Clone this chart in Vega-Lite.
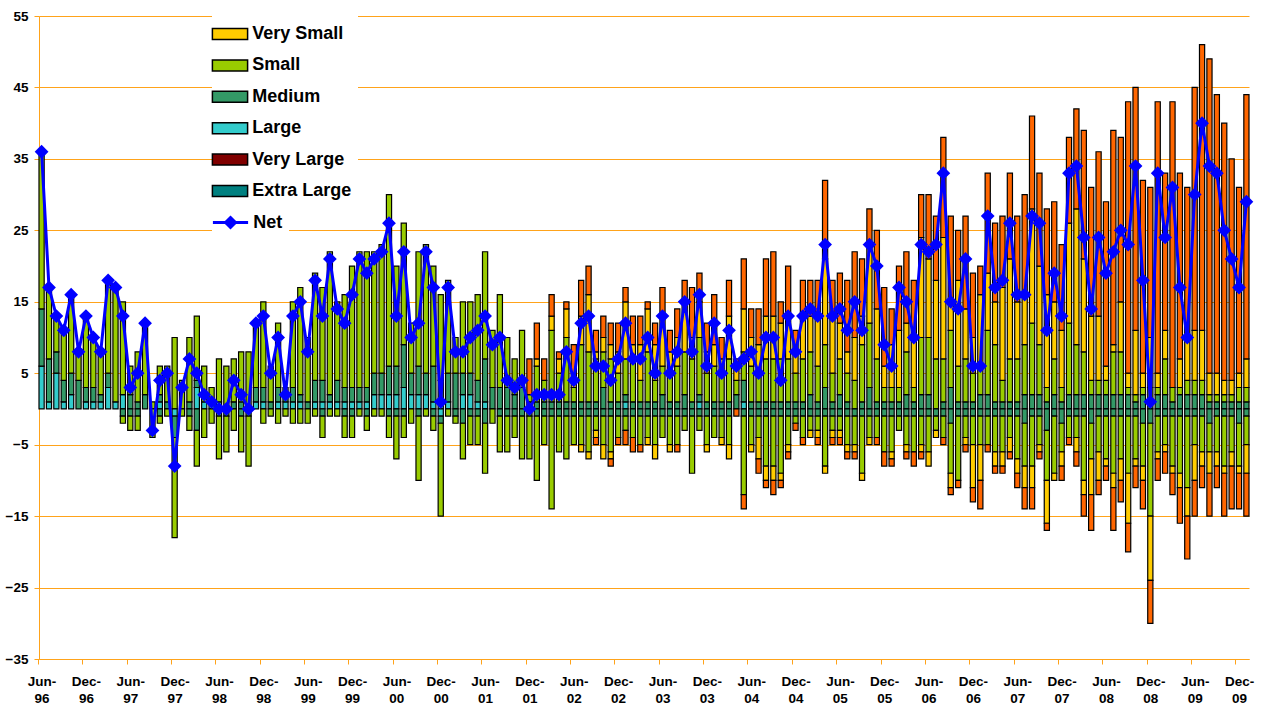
{
"$schema": "https://vega.github.io/schema/vega-lite/v6.json",
"width": 1210, "height": 643,
"autosize": {"type": "none"},
"padding": {"left": 39, "top": 16, "right": 14, "bottom": 46},
"background": "white",
"config": {"view": {"stroke": null}, "font": "Liberation Sans"},
"data": {"values": [
{"d":"1996-06","n":36,"L":6,"M":8,"S":22},
{"d":"1996-07","n":17,"L":1,"M":6,"S":10},
{"d":"1996-08","n":13,"L":5,"M":3,"S":5},
{"d":"1996-09","n":11,"L":1,"M":3,"S":7},
{"d":"1996-10","n":16,"L":2,"M":3,"S":11},
{"d":"1996-11","n":8,"M":4,"S":4},
{"d":"1996-12","n":13,"L":1,"M":2,"S":10},
{"d":"1997-01","n":10,"L":1,"M":2,"S":7},
{"d":"1997-02","n":8,"L":1,"M":1,"S":6},
{"d":"1997-03","n":18,"L":3,"M":2,"S":13},
{"d":"1997-04","n":17,"L":1,"S":16},
{"d":"1997-05","n":13,"L":2,"S":13,"m":-1,"s":-1},
{"d":"1997-06","n":3,"M":2,"S":4,"m":-1,"s":-2},
{"d":"1997-07","n":5,"M":1,"S":7,"m":-1,"s":-2},
{"d":"1997-08","n":12,"M":2,"S":10},
{"d":"1997-09","n":-3,"S":1,"s":-4},
{"d":"1997-10","n":4,"L":1,"M":1,"S":4,"m":-1,"s":-1},
{"d":"1997-11","n":5,"M":1,"S":5,"s":-1},
{"d":"1997-12","n":-8,"S":10,"l":-1,"m":-3,"s":-14},
{"d":"1998-01","n":3,"S":4,"s":-1},
{"d":"1998-02","n":7,"M":1,"S":9,"m":-1,"s":-2},
{"d":"1998-03","n":5,"L":3,"M":1,"S":9,"m":-3,"s":-5},
{"d":"1998-04","n":2,"L":1,"S":5,"s":-4},
{"d":"1998-05","n":1,"L":1,"S":2,"s":-2},
{"d":"1998-06","n":0,"L":1,"S":6,"m":-1,"s":-6},
{"d":"1998-07","n":0,"S":6,"m":-1,"s":-5},
{"d":"1998-08","n":4,"M":1,"S":6,"s":-3},
{"d":"1998-09","n":2,"M":1,"S":7,"m":-1,"s":-5},
{"d":"1998-10","n":0,"S":8,"m":-1,"s":-7},
{"d":"1998-11","n":12,"L":1,"M":2,"S":9},
{"d":"1998-12","n":13,"L":1,"M":2,"S":12,"s":-2},
{"d":"1999-01","n":5,"M":1,"S":5,"s":-1},
{"d":"1999-02","n":10,"L":1,"M":2,"S":9,"s":-2},
{"d":"1999-03","n":2,"L":1,"M":1,"S":1,"s":-1},
{"d":"1999-04","n":13,"L":1,"M":2,"S":12,"s":-2},
{"d":"1999-05","n":15,"L":1,"M":1,"S":15,"s":-2},
{"d":"1999-06","n":8,"M":1,"S":9,"s":-2},
{"d":"1999-07","n":18,"L":1,"M":3,"S":15,"s":-1},
{"d":"1999-08","n":13,"L":1,"M":3,"S":13,"m":-1,"s":-3},
{"d":"1999-09","n":21,"L":1,"M":1,"S":20,"s":-1},
{"d":"1999-10","n":14,"L":1,"M":3,"S":11,"s":-1},
{"d":"1999-11","n":12,"L":1,"M":2,"S":13,"m":-1,"s":-3},
{"d":"1999-12","n":16,"L":1,"M":2,"S":17,"m":-1,"s":-3},
{"d":"2000-01","n":21,"L":1,"M":2,"S":19,"s":-1},
{"d":"2000-02","n":19,"L":1,"M":2,"S":19,"m":-1,"s":-2},
{"d":"2000-03","n":21,"L":2,"M":3,"S":17,"s":-1},
{"d":"2000-04","n":22,"L":2,"M":3,"S":18,"s":-1},
{"d":"2000-05","n":26,"L":2,"M":4,"S":24,"m":-1,"s":-3},
{"d":"2000-06","n":13,"L":2,"M":4,"S":14,"m":-1,"s":-6},
{"d":"2000-07","n":22,"L":3,"M":6,"S":17,"m":-1,"s":-3},
{"d":"2000-08","n":10,"L":2,"M":3,"S":7,"s":-2},
{"d":"2000-09","n":12,"L":2,"M":4,"S":16,"m":-1,"s":-9},
{"d":"2000-10","n":22,"L":2,"M":3,"S":18,"s":-1},
{"d":"2000-11","n":17,"L":1,"M":5,"S":14,"m":-1,"s":-2},
{"d":"2000-12","n":1,"L":1,"M":3,"S":12,"l":-1,"m":-1,"s":-13},
{"d":"2001-01","n":17,"L":1,"M":4,"S":13,"s":-1},
{"d":"2001-02","n":8,"M":5,"S":5,"m":-1,"s":-1},
{"d":"2001-03","n":8,"L":2,"M":3,"S":10,"m":-2,"s":-5},
{"d":"2001-04","n":10,"L":2,"M":3,"S":10,"m":-1,"s":-4},
{"d":"2001-05","n":11,"L":1,"M":3,"S":12,"m":-1,"s":-4},
{"d":"2001-06","n":13,"L":1,"M":6,"S":15,"m":-2,"s":-7},
{"d":"2001-07","n":9,"M":3,"S":8,"s":-2},
{"d":"2001-08","n":10,"M":3,"S":13,"m":-1,"s":-5},
{"d":"2001-09","n":4,"M":3,"S":7,"m":-1,"s":-5},
{"d":"2001-10","n":3,"M":2,"S":5,"m":-1,"s":-3},
{"d":"2001-11","n":4,"M":3,"S":8,"m":-1,"s":-6},
{"d":"2001-12","n":0,"M":1,"S":1,"X":5,"m":-1,"s":-6},
{"d":"2002-01","n":2,"M":1,"S":5,"V":1,"X":5,"m":-1,"s":-9},
{"d":"2002-02","n":2,"M":1,"S":3,"X":3,"m":-1,"s":-4},
{"d":"2002-03","n":2,"M":1,"S":10,"V":2,"X":3,"m":-1,"s":-13},
{"d":"2002-04","n":2,"M":1,"S":4,"V":2,"X":1,"m":-1,"s":-5},
{"d":"2002-05","n":8,"M":1,"S":9,"V":4,"X":1,"m":-1,"s":-6},
{"d":"2002-06","n":4,"M":1,"S":2,"V":1,"X":5,"m":-1,"s":-4},
{"d":"2002-07","n":12,"M":1,"S":8,"V":4,"X":5,"m":-1,"s":-4,"v":-1},
{"d":"2002-08","n":13,"M":1,"S":7,"V":8,"X":4,"m":-1,"s":-5,"v":-1},
{"d":"2002-09","n":6,"M":1,"S":6,"V":1,"X":3,"m":-1,"s":-2,"v":-1,"x":-1},
{"d":"2002-10","n":6,"M":3,"S":5,"V":2,"X":3,"m":-1,"s":-4,"v":-2},
{"d":"2002-11","n":4,"M":1,"S":6,"V":2,"X":3,"m":-1,"s":-5,"v":-1,"x":-1},
{"d":"2002-12","n":7,"M":1,"S":4,"V":3,"X":4,"m":-1,"s":-3,"x":-1},
{"d":"2003-01","n":12,"L":1,"M":1,"S":5,"V":8,"X":2,"m":-1,"s":-2,"x":-2},
{"d":"2003-02","n":7,"M":1,"S":6,"V":2,"X":4,"m":-1,"s":-3,"x":-2},
{"d":"2003-03","n":7,"M":1,"S":3,"V":5,"X":4,"m":-1,"s":-4,"x":-1},
{"d":"2003-04","n":10,"M":1,"S":7,"V":6,"X":1,"m":-1,"s":-3,"v":-1},
{"d":"2003-05","n":5,"M":1,"S":3,"V":5,"X":3,"m":-1,"s":-4,"v":-2},
{"d":"2003-06","n":13,"M":2,"S":4,"V":7,"X":4,"m":-1,"s":-3},
{"d":"2003-07","n":5,"M":1,"S":4,"V":3,"X":3,"m":-1,"s":-4,"v":-1},
{"d":"2003-08","n":8,"M":1,"S":5,"V":4,"X":4,"m":-1,"s":-4,"x":-1},
{"d":"2003-09","n":15,"M":2,"S":6,"V":7,"X":3,"m":-1,"s":-2},
{"d":"2003-10","n":8,"M":1,"S":6,"V":3,"X":7,"m":-1,"s":-8},
{"d":"2003-11","n":16,"L":1,"M":1,"S":8,"V":5,"X":4,"m":-1,"s":-2},
{"d":"2003-12","n":6,"M":1,"S":4,"V":3,"X":4,"m":-1,"s":-4,"v":-1},
{"d":"2004-01","n":12,"M":1,"S":5,"V":3,"X":7,"m":-1,"s":-3},
{"d":"2004-02","n":5,"M":1,"S":4,"V":2,"X":3,"m":-1,"s":-3,"v":-1},
{"d":"2004-03","n":11,"M":1,"S":6,"V":6,"X":5,"m":-1,"s":-4,"v":-2},
{"d":"2004-04","n":6,"M":2,"S":2,"V":2,"X":1,"x":-1},
{"d":"2004-05","n":7,"L":1,"M":3,"S":4,"V":6,"X":7,"m":-1,"s":-11,"x":-2},
{"d":"2004-06","n":8,"M":1,"S":5,"V":4,"X":4,"m":-1,"s":-4,"v":-1},
{"d":"2004-07","n":5,"M":1,"S":4,"V":4,"X":5,"m":-1,"s":-3,"v":-3,"x":-2},
{"d":"2004-08","n":10,"M":1,"S":6,"V":6,"X":8,"m":-1,"s":-7,"v":-2,"x":-1},
{"d":"2004-09","n":10,"M":1,"S":6,"V":6,"X":9,"m":-1,"s":-7,"v":-2,"x":-2},
{"d":"2004-10","n":4,"M":1,"S":6,"V":5,"X":3,"m":-1,"s":-8,"v":-1,"x":-1},
{"d":"2004-11","n":13,"M":1,"S":6,"V":6,"X":7,"m":-1,"s":-4,"v":-1,"x":-1},
{"d":"2004-12","n":8,"M":1,"S":4,"V":3,"X":3,"m":-1,"s":-1,"x":-1},
{"d":"2005-01","n":13,"M":1,"S":6,"V":6,"X":5,"m":-1,"s":-3,"x":-1},
{"d":"2005-02","n":14,"M":2,"S":6,"V":5,"X":5,"m":-1,"s":-2,"v":-1},
{"d":"2005-03","n":13,"M":1,"S":5,"V":7,"X":5,"m":-1,"s":-2,"v":-1,"x":-1},
{"d":"2005-04","n":23,"M":3,"S":6,"V":12,"X":11,"m":-1,"s":-7,"v":-1},
{"d":"2005-05","n":13,"M":1,"S":4,"V":8,"X":5,"m":-1,"s":-2,"v":-1,"x":-1},
{"d":"2005-06","n":14,"M":2,"S":5,"V":5,"X":7,"m":-1,"s":-2,"v":-1,"x":-1},
{"d":"2005-07","n":11,"M":1,"S":4,"V":3,"X":10,"m":-1,"s":-4,"v":-1,"x":-1},
{"d":"2005-08","n":15,"S":4,"V":6,"X":12,"m":-1,"s":-4,"v":-1,"x":-1},
{"d":"2005-09","n":11,"M":1,"S":8,"V":4,"X":8,"m":-1,"s":-8,"v":-1},
{"d":"2005-10","n":23,"M":3,"S":9,"V":11,"X":5,"m":-1,"s":-3,"v":-1},
{"d":"2005-11","n":20,"M":1,"S":6,"V":7,"X":11,"m":-1,"s":-3,"x":-1},
{"d":"2005-12","n":9,"M":1,"S":2,"V":3,"X":11,"m":-1,"s":-5,"x":-2},
{"d":"2006-01","n":6,"M":1,"S":2,"V":6,"X":5,"m":-1,"s":-5,"v":-1,"x":-1},
{"d":"2006-02","n":17,"M":1,"S":2,"V":8,"X":9,"m":-1,"s":-2},
{"d":"2006-03","n":15,"M":2,"S":6,"V":4,"X":10,"m":-1,"s":-4,"v":-1,"x":-1},
{"d":"2006-04","n":10,"M":1,"S":2,"V":7,"X":8,"m":-1,"s":-5,"x":-2},
{"d":"2006-05","n":23,"M":2,"S":8,"V":14,"X":6,"m":-1,"s":-4,"v":-1,"x":-1},
{"d":"2006-06","n":22,"M":2,"S":8,"V":11,"X":9,"m":-1,"s":-5,"v":-2},
{"d":"2006-07","n":23,"S":7,"V":11,"X":9,"m":-1,"s":-2,"v":-1},
{"d":"2006-08","n":33,"M":1,"S":6,"V":17,"X":14,"m":-1,"s":-3,"x":-1},
{"d":"2006-09","n":15,"M":3,"S":8,"V":4,"X":12,"m":-2,"s":-7,"v":-2,"x":-1},
{"d":"2006-10","n":14,"M":1,"S":5,"V":12,"X":7,"m":-1,"s":-9,"x":-1},
{"d":"2006-11","n":21,"M":1,"S":6,"V":7,"X":13,"m":-1,"s":-3,"v":-1,"x":-1},
{"d":"2006-12","n":6,"M":1,"S":4,"V":5,"X":9,"m":-1,"s":-4,"v":-6,"x":-2},
{"d":"2007-01","n":6,"M":2,"S":4,"V":10,"X":4,"m":-1,"s":-4,"v":-5,"x":-4},
{"d":"2007-02","n":27,"M":2,"S":9,"V":8,"X":14,"m":-1,"s":-4,"x":-1},
{"d":"2007-03","n":17,"M":1,"S":8,"V":6,"X":11,"m":-1,"s":-5,"v":-2,"x":-1},
{"d":"2007-04","n":18,"M":1,"S":3,"V":13,"X":10,"m":-1,"s":-5,"v":-2,"x":-1},
{"d":"2007-05","n":26,"M":1,"S":6,"V":14,"X":12,"m":-1,"s":-3,"v":-2,"x":-1},
{"d":"2007-06","n":16,"M":1,"S":6,"V":8,"X":12,"m":-1,"s":-6,"v":-2,"x":-2},
{"d":"2007-07","n":16,"M":2,"S":7,"V":7,"X":14,"m":-2,"s":-6,"v":-3,"x":-3},
{"d":"2007-08","n":27,"M":2,"S":10,"V":16,"X":13,"m":-1,"s":-7,"v":-3,"x":-3},
{"d":"2007-09","n":26,"M":2,"S":7,"V":11,"X":13,"m":-1,"s":-4,"v":-1,"x":-1},
{"d":"2007-10","n":11,"M":1,"S":2,"V":13,"X":12,"m":-3,"s":-7,"v":-6,"x":-1},
{"d":"2007-11","n":19,"M":2,"S":5,"V":8,"X":14,"m":-1,"s":-8,"v":-1},
{"d":"2007-12","n":13,"M":1,"S":2,"V":8,"X":12,"m":-2,"s":-4,"v":-2,"x":-2},
{"d":"2008-01","n":33,"M":2,"S":10,"V":14,"X":12,"m":-1,"s":-3,"x":-1},
{"d":"2008-02","n":34,"M":2,"S":7,"V":19,"X":14,"m":-1,"s":-3,"v":-2,"x":-2},
{"d":"2008-03","n":24,"M":2,"S":6,"V":13,"X":18,"m":-1,"s":-9,"v":-2,"x":-3},
{"d":"2008-04","n":14,"M":2,"S":2,"V":9,"X":18,"m":-2,"s":-5,"v":-5,"x":-5},
{"d":"2008-05","n":24,"M":2,"S":2,"V":9,"X":23,"m":-1,"s":-5,"v":-4,"x":-2},
{"d":"2008-06","n":19,"M":2,"S":2,"V":2,"X":23,"m":-1,"s":-6,"v":-1,"x":-2},
{"d":"2008-07","n":22,"M":2,"S":6,"V":1,"X":30,"m":-1,"s":-8,"v":-2,"x":-6},
{"d":"2008-08","n":25,"M":2,"S":6,"V":7,"X":23,"m":-1,"s":-6,"v":-3,"x":-3},
{"d":"2008-09","n":23,"M":2,"S":1,"V":2,"X":38,"m":-1,"s":-8,"v":-7,"x":-4},
{"d":"2008-10","n":34,"M":1,"S":1,"V":9,"X":34,"m":-1,"s":-6,"v":-1,"x":-3},
{"d":"2008-11","n":18,"M":2,"S":1,"V":2,"X":27,"m":-2,"s":-6,"v":-2,"x":-4},
{"d":"2008-12","n":1,"M":1,"S":2,"V":7,"X":21,"m":-2,"s":-13,"v":-9,"x":-6},
{"d":"2009-01","n":33,"M":2,"S":1,"V":2,"X":38,"m":-1,"s":-5,"v":-1,"x":-3},
{"d":"2009-02","n":24,"M":2,"S":5,"V":4,"X":22,"m":-1,"s":-4,"v":-1,"x":-3},
{"d":"2009-03","n":31,"M":1,"S":2,"X":40,"m":-1,"s":-7,"v":-1,"x":-3},
{"d":"2009-04","n":17,"M":2,"S":1,"V":4,"X":26,"m":-1,"s":-8,"v":-2,"x":-5},
{"d":"2009-05","n":10,"M":2,"S":2,"V":6,"X":21,"m":-1,"s":-10,"v":-4,"x":-6},
{"d":"2009-06","n":30,"M":2,"S":2,"V":7,"X":34,"m":-1,"s":-4,"v":-5,"x":-5},
{"d":"2009-07","n":40,"M":2,"S":2,"V":7,"X":40,"m":-1,"s":-5,"v":-2,"x":-3},
{"d":"2009-08","n":34,"M":1,"S":1,"V":3,"X":44,"m":-2,"s":-4,"v":-3,"x":-6},
{"d":"2009-09","n":33,"M":1,"S":1,"V":3,"X":39,"m":-1,"s":-5,"v":-2,"x":-3},
{"d":"2009-10","n":25,"M":1,"S":1,"V":2,"X":36,"m":-1,"s":-7,"v":-1,"x":-6},
{"d":"2009-11","n":21,"M":1,"S":1,"V":2,"X":31,"m":-1,"s":-5,"v":-2,"x":-6},
{"d":"2009-12","n":17,"M":1,"S":2,"V":2,"X":26,"m":-2,"s":-6,"v":-1,"x":-5},
{"d":"2010-01","n":29,"M":1,"S":2,"V":4,"X":37,"m":-1,"s":-4,"v":-4,"x":-6}
]},
"encoding": {
  "x": {"field": "d", "type": "ordinal", "title": null,
    "scale": {"paddingInner": 0.3, "paddingOuter": 0},
    "axis": {
      "values": ["1996-06","1996-12","1997-06","1997-12","1998-06","1998-12","1999-06","1999-12","2000-06","2000-12","2001-06","2001-12","2002-06","2002-12","2003-06","2003-12","2004-06","2004-12","2005-06","2005-12","2006-06","2006-12","2007-06","2007-12","2008-06","2008-12","2009-06","2009-12"],
      "labelExpr": "[(substring(datum.value,5,7)=='06'?'Jun-':'Dec-'), substring(datum.value,2,4)]",
      "labelAngle": 0, "labelFont": "Liberation Sans", "labelFontSize": 13.5, "labelFontWeight": "bold", "labelColor": "black",
      "labelLineHeight": 17, "labelPadding": 10, "tickOffset": -3.69, "labelOffset": 3.69, "labelOverlap": false,
      "tickColor": "#FFA31A", "tickSize": 5,
      "domainColor": "#FFA31A", "domainWidth": 1, "grid": false
    }
  }
},
"layer": [
  {
    "transform": [
      {"fold": ["L","M","S","V","X","l","m","s","v","x"], "as": ["k","val"]},
      {"filter": "isValid(datum.val) && datum.val != 0"}
    ],
    "mark": {"type": "bar", "stroke": "black", "strokeWidth": 1.2},
    "encoding": {
      "y": {"field": "val", "type": "quantitative", "stack": "zero", "title": null,
        "scale": {"domain": [-35, 55], "nice": false, "zero": false},
        "axis": {"values": [-35,-25,-15,-5,5,15,25,35,45,55], "grid": true, "gridColor": "#FFA31A", "gridWidth": 1,
          "domainColor": "#FFA31A", "tickColor": "#FFA31A", "tickSize": 5,
          "labelFont": "Liberation Sans", "labelFontSize": 13.5, "labelFontWeight": "bold", "labelColor": "black", "labelPadding": 6}
      },
      "color": {"field": "k", "type": "nominal",
        "scale": {
          "domain": ["V","S","M","L","VL","XL","X","v","s","m","l","x"],
          "range": ["#FFCC00","#99CC00","#339966","#33CCCC","#800000","#008080","#FF6600","#FFCC00","#99CC00","#339966","#33CCCC","#FF6600"]
        },
        "legend": {
          "orient": "none", "legendX": 173, "legendY": 0, "title": null,
          "values": ["V","S","M","L","VL","XL"],
          "labelExpr": "datum.label=='V'?'Very Small':datum.label=='S'?'Small':datum.label=='M'?'Medium':datum.label=='L'?'Large':datum.label=='VL'?'Very Large':'Extra Large'",
          "labelFont": "Liberation Sans", "labelFontSize": 18, "labelFontWeight": "bold", "labelColor": "black",
          "symbolType": "M-1.6,-0.5H1.6V0.5H-1.6Z", "symbolSize": 484, "symbolStrokeColor": "#000000", "symbolStrokeWidth": 1.5, "symbolOpacity": 1,
          "labelOffset": 10.2, "rowPadding": 10.4, "padding": 6, "fillColor": "white"
        }
      },
      "order": {"field": "k", "sort": "ascending"}
    }
  },
  {
    "mark": {"type": "line", "strokeWidth": 3, "color": "#0000FF", "point": {"shape": "diamond", "size": 120, "filled": true, "fill": "#0000FF", "color": "#0000FF"}},
    "encoding": {
      "y": {"field": "n", "type": "quantitative"},
      "stroke": {"datum": "Net", "type": "nominal", "scale": {"domain": ["Net"], "range": ["#0000FF"]},
        "legend": {
          "orient": "none", "legendX": 173, "legendY": 188, "title": null,
          "labelFont": "Liberation Sans", "labelFontSize": 18, "labelFontWeight": "bold", "labelColor": "black",
          "symbolType": "M-1.6,0H1.6M0,-0.45L0.45,0L0,0.45L-0.45,0Z", "symbolSize": 484, "symbolStrokeWidth": 3,
          "symbolFillColor": "#0000FF", "symbolStrokeColor": "#0000FF", "symbolOpacity": 1,
          "labelOffset": 10.2, "padding": 6, "fillColor": "white"
        }
      }
    }
  }
]
}
